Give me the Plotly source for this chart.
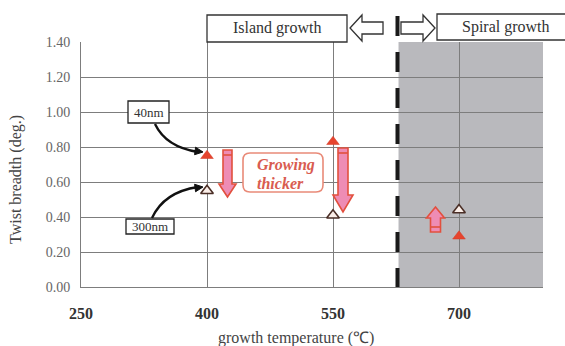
import plotly.graph_objects as go

# ---- data ----
temps = [400, 550, 700]                 # growth temperature (°C)
twist_40nm = [0.75, 0.83, 0.29]         # twist breadth, 40 nm films (deg.)
twist_300nm = [0.55, 0.41, 0.44]        # twist breadth, 300 nm films (deg.)
x_ticks = [250, 400, 550, 700]
y_ticks = [0.0, 0.2, 0.4, 0.6, 0.8, 1.0, 1.2, 1.4]
boundary_temp = 625                     # island / spiral growth transition
x_range = [250, 800]
y_range = [0.0, 1.4]

W, H = 565, 346
ML, MR, MT, MB = 81, 22, 42, 59
PW, PH = W - ML - MR, H - MT - MB
SERIF = "Liberation Serif"


# pixel -> data / paper helpers for the decorations
def dx(px):
    return x_range[0] + (px - ML) * (x_range[1] - x_range[0]) / PW


def dy(py):
    return y_range[0] + (MT + PH - py) * (y_range[1] - y_range[0]) / PH


def paper_x(px):
    return (px - ML) / PW


def paper_y(py):
    return (MT + PH - py) / PH


def data_path(points, close=True):
    s = "M " + " L ".join(f"{dx(x):.3f},{dy(y):.4f}" for x, y in points)
    return s + (" Z" if close else "")


def paper_path(points):
    return "M " + " L ".join(f"{paper_x(x):.4f},{paper_y(y):.4f}" for x, y in points) + " Z"


def block_arrow(cx, shaft_half, head_half, y_tail, y_base, y_tip):
    return [(cx - shaft_half, y_tail), (cx + shaft_half, y_tail), (cx + shaft_half, y_base),
            (cx + head_half, y_base), (cx, y_tip), (cx - head_half, y_base),
            (cx - shaft_half, y_base)]


def arrow_head(tip, direction, length=8, half=3.8):
    ux, uy = direction
    n = (ux ** 2 + uy ** 2) ** 0.5
    ux, uy = ux / n, uy / n
    bx, by = tip[0] - length * ux, tip[1] - length * uy
    return [tip, (bx - half * uy, by + half * ux), (bx + half * uy, by - half * ux)]


fig = go.Figure()

fig.add_trace(go.Scatter(
    x=temps, y=twist_40nm, mode="markers", name="40nm",
    marker=dict(symbol="triangle-up", size=11, color="#e6442e",
                line=dict(color="#d23a26", width=0.5)),
    showlegend=False))
fig.add_trace(go.Scatter(
    x=temps, y=twist_300nm, mode="markers", name="300nm",
    marker=dict(symbol="triangle-up", size=11, color="#fbeee8",
                line=dict(color="#4a2e26", width=1.6)),
    showlegend=False))

shapes = []
# spiral-growth region
shapes.append(dict(type="rect", xref="x", yref="paper", x0=boundary_temp + 3, x1=x_range[1],
                   y0=0, y1=1, fillcolor="#b9b9bd", line=dict(width=0), layer="below"))
# transition line (dashes start at the top)
shapes.append(dict(type="line", xref="paper", yref="paper",
                   x0=paper_x(397.5), x1=paper_x(397.5), y0=paper_y(16), y1=0,
                   line=dict(color="#1a1a1a", width=4, dash="20px,16px")))

# thickening arrows
pink, red = "#ee8cb4", "#e2503e"
for cx, sh, hh, yt, yb, ytip in [(227.5, 4.5, 8.5, 150, 184, 197),
                                 (343, 5, 10, 148, 195, 212),
                                 (435.5, 5, 9, 232, 218, 207)]:
    shapes.append(dict(type="path", path=data_path(block_arrow(cx, sh, hh, yt, yb, ytip)),
                       fillcolor=pink, line=dict(color=red, width=1.6), layer="above"))
    band = yt + 5 if ytip > yt else yt - 5
    shapes.append(dict(type="line", x0=dx(cx - sh), x1=dx(cx + sh), y0=dy(band), y1=dy(band),
                       line=dict(color=red, width=1.6)))

# "Growing thicker" rounded box
x0, x1, y0, y1, r = 243, 323, 153, 192, 7
rounded = (f"M {dx(x0 + r)},{dy(y0)} L {dx(x1 - r)},{dy(y0)} Q {dx(x1)},{dy(y0)} {dx(x1)},{dy(y0 + r)} "
           f"L {dx(x1)},{dy(y1 - r)} Q {dx(x1)},{dy(y1)} {dx(x1 - r)},{dy(y1)} "
           f"L {dx(x0 + r)},{dy(y1)} Q {dx(x0)},{dy(y1)} {dx(x0)},{dy(y1 - r)} "
           f"L {dx(x0)},{dy(y0 + r)} Q {dx(x0)},{dy(y0)} {dx(x0 + r)},{dy(y0)} Z")
shapes.append(dict(type="path", path=rounded, fillcolor="white",
                   line=dict(color="#e98a78", width=1.6)))

# thickness label boxes and curved pointers
for bx0, by0, bx1, by1 in [(128, 101, 169, 123), (126, 219, 174, 234)]:
    shapes.append(dict(type="rect", x0=dx(bx0), x1=dx(bx1), y0=dy(by1), y1=dy(by0),
                       fillcolor="white", line=dict(color="#222", width=1.3)))
for start, ctrl, tip in [((155, 124), (166, 147), (203, 152)),
                         ((152, 218), (164, 192), (203, 187))]:
    shapes.append(dict(type="path",
                       path=f"M {dx(start[0])},{dy(start[1])} Q {dx(ctrl[0])},{dy(ctrl[1])} "
                            f"{dx(tip[0] - 5)},{dy(tip[1])}",
                       line=dict(color="#111", width=2.4)))
    shapes.append(dict(type="path",
                       path=data_path(arrow_head(tip, (tip[0] - ctrl[0], tip[1] - ctrl[1]))),
                       fillcolor="#111", line=dict(color="#111", width=1)))

# header: growth-mode boxes and open arrows
shapes.append(dict(type="rect", xref="paper", yref="paper", x0=paper_x(207), x1=paper_x(347),
                   y0=paper_y(42), y1=paper_y(15), fillcolor="white",
                   line=dict(color="#333", width=1.3)))
shapes.append(dict(type="rect", xref="paper", yref="paper", x0=paper_x(437), x1=paper_x(568),
                   y0=paper_y(40), y1=paper_y(14), fillcolor="white",
                   line=dict(color="#333", width=1.3)))
shapes.append(dict(type="path", xref="paper", yref="paper",
                   path=paper_path([(350, 28), (362, 15), (362, 22), (383, 22), (383, 34),
                                    (362, 34), (362, 41)]),
                   fillcolor="white", line=dict(color="#333", width=1.3)))
shapes.append(dict(type="path", xref="paper", yref="paper",
                   path=paper_path([(435, 28), (423, 15), (423, 22), (401, 22), (401, 34),
                                    (423, 34), (423, 41)]),
                   fillcolor="white", line=dict(color="#333", width=1.3)))


def label(text, px, py, size, color, ref="paper", weight="normal", style="normal", **kw):
    if ref == "paper":
        pos = dict(xref="paper", yref="paper", x=paper_x(px), y=paper_y(py))
    else:
        pos = dict(x=dx(px), y=dy(py))
    base = dict(text=text, showarrow=False, xanchor="center", yanchor="middle",
                font=dict(family=SERIF, size=size, color=color, weight=weight, style=style))
    base.update(pos)
    base.update(kw)
    return base


annotations = [
    label("Island growth", 277, 28, 16, "#333"),
    label("Spiral growth", 506, 27, 16, "#333"),
    label("40nm", 148.5, 112, 13, "#333", ref="data"),
    label("300nm", 150, 226.5, 13, "#333", ref="data"),
    label("Growing", 255, 165, 16, "#d95c50", ref="data", weight="bold", style="italic",
          xanchor="left"),
    label("thicker", 255, 183, 16, "#d95c50", ref="data", weight="bold", style="italic",
          xanchor="left"),
    label("Twist breadth (deg.)", 16, 180, 16, "#444", textangle=-90),
    label("growth temperature (℃)", 296, 338, 16, "#444"),
]

fig.update_layout(
    width=W, height=H,
    margin=dict(l=ML, r=MR, t=MT, b=MB),
    paper_bgcolor="white", plot_bgcolor="white",
    shapes=shapes, annotations=annotations,
    xaxis=dict(range=x_range, tickvals=x_ticks, ticktext=[str(t) for t in x_ticks],
               showgrid=True, gridcolor="#7d7d7d", gridwidth=1, zeroline=False,
               showline=True, linecolor="#7d7d7d", linewidth=1, ticks="",
               ticklabelstandoff=12,
               tickfont=dict(family=SERIF, size=16, color="#333", weight="bold")),
    yaxis=dict(range=y_range, tickvals=y_ticks, tickformat=".2f",
               showgrid=True, gridcolor="#7d7d7d", gridwidth=1, zeroline=False,
               showline=True, linecolor="#7d7d7d", linewidth=1, ticks="",
               ticklabelstandoff=7,
               tickfont=dict(family=SERIF, size=14, color="#666")),
)

fig.write_html("out.html")
